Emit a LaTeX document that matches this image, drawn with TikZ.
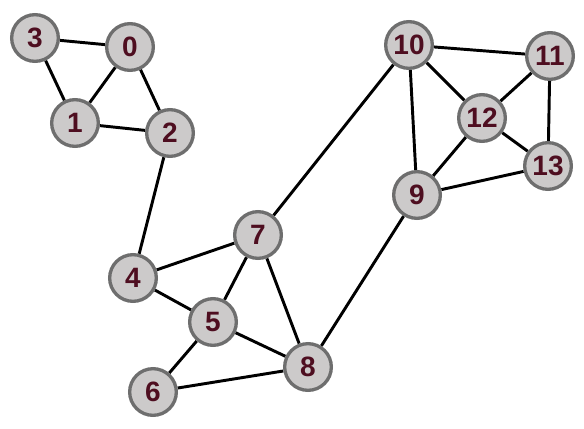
\documentclass[tikz,border=0pt]{standalone}
\usepackage{fontspec}
\setsansfont{Liberation Sans}
\usetikzlibrary{backgrounds}
\definecolor{nodefill}{RGB}{204,202,202}
\definecolor{nodeedge}{RGB}{110,110,110}
\definecolor{numcol}{RGB}{78,14,32}
\begin{document}
\begin{tikzpicture}[x=0.75pt,y=-0.75pt,
    vertex/.style={circle,draw=nodeedge,fill=nodefill,line width=2.5pt,minimum size=35pt,inner sep=0pt,
      font=\sffamily\bfseries\fontsize{21}{21}\selectfont,text=numcol},
    link/.style={line width=2.2pt,black}]
				\useasboundingbox (0,0) rectangle (584,428);
				\foreach \n/\x/\y in {0/130/47,1/75/123,2/170/133,3/35/38,4/133/278,5/213/322,6/153/392,
				  7/258/235,8/308/367,9/417/195,10/409/45,11/550/56,12/482/118,13/548/166}
				  {\node[vertex] (v\n) at (\x,\y) {\n};}
				\begin{scope}[on background layer]
				\foreach \a/\b in {3/0,3/1,0/1,0/2,1/2,2/4,4/7,4/5,7/5,7/8,5/8,5/6,6/8,8/9,7/10,
				  10/11,10/12,10/9,11/12,11/13,12/13,12/9,9/13}
				  {\draw[link] (v\a) -- (v\b);}
				\end{scope}
				\end{tikzpicture}
\end{document}
